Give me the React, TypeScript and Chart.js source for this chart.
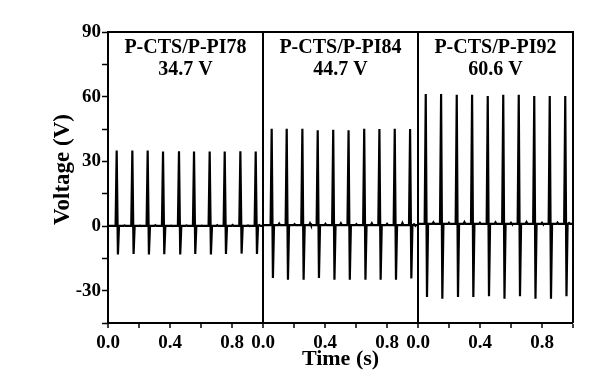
import React, { useEffect, useRef } from "react";
import { Chart, registerables } from "chart.js";

Chart.register(...registerables);

// ---------- data ----------
const PANEL_TITLES = ["P-CTS/P-PI78", "P-CTS/P-PI84", "P-CTS/P-PI92"];
const PANEL_PEAK_LABELS = ["34.7 V", "44.7 V", "60.6 V"];
const X_AXIS_TITLE = "Time (s)";
const Y_AXIS_TITLE = "Voltage (V)";

// Panel 1: P-CTS/P-PI78
const PULSE_TIMES_A = [0.056, 0.157, 0.256, 0.355, 0.458, 0.555, 0.656, 0.753, 0.854, 0.953];
const PULSE_PEAKS_A = [35.0, 35.0, 35.0, 34.6, 34.7, 34.6, 34.6, 34.5, 34.7, 34.5];
const PULSE_TROUGHS_A = [-13.2, -13.0, -13.2, -13.1, -13.2, -13.0, -13.2, -13.0, -12.8, -13.0];
const BASELINE_A = 0.1;
const BUMPS_A = [0.3, 0.2, 0.4, 0.2, 0.3, 0.2, 0.4, 0.5, 0.3, 0.4];

// Panel 2: P-CTS/P-PI84
const PULSE_TIMES_B = [0.056, 0.153, 0.254, 0.353, 0.453, 0.552, 0.653, 0.751, 0.85, 0.949];
const PULSE_PEAKS_B = [45.1, 45.1, 45.1, 44.4, 44.7, 44.4, 45.1, 45.0, 45.1, 45.0];
const PULSE_TROUGHS_B = [-24.1, -24.9, -24.9, -24.1, -24.9, -24.9, -24.9, -24.9, -24.9, -24.3];
const BASELINE_B = 0.4;
const BUMPS_B = [1.1, 0.9, 1.3, 1.0, 1.2, 0.9, 1.2, 1.0, 1.4, 0.8];

// Panel 3: P-CTS/P-PI92
const PULSE_TIMES_C = [0.05, 0.149, 0.25, 0.349, 0.45, 0.55, 0.65, 0.75, 0.85, 0.95];
const PULSE_PEAKS_C = [61.2, 61.2, 60.9, 60.9, 60.3, 60.9, 60.9, 60.3, 60.3, 60.3];
const PULSE_TROUGHS_C = [-32.9, -33.7, -32.9, -32.9, -32.6, -33.7, -32.6, -33.7, -33.7, -32.6];
const BASELINE_C = 1.0;
const BUMPS_C = [1.7, 1.5, 1.8, 1.5, 1.7, 1.5, 1.8, 1.5, 1.6, 1.4];

// ticks
const Y_TICK_VALUES = [-45, -30, -15, 0, 15, 30, 45, 60, 75, 90];
const Y_TICK_LABELS = ["", "-30", "", "0", "", "30", "", "60", "", "90"];
const X_PANEL_TICK_VALUES = [0, 0.2, 0.4, 0.6, 0.8];
const X_PANEL_TICK_LABELS = ["0.0", "", "0.4", "", "0.8"];
const PANEL_COUNT = 3;

const FONT = '"Liberation Serif", "Times New Roman", serif';

function buildPanel(
  offset: number,
  times: number[],
  peaks: number[],
  troughs: number[],
  base: number,
  bumps: number[]
) {
  const pts: { x: number; y: number }[] = [{ x: offset, y: base }];
  times.forEach((t, i) => {
    pts.push({ x: offset + t - 0.007, y: base });
    pts.push({ x: offset + t, y: peaks[i] });
    pts.push({ x: offset + t + 0.008, y: troughs[i] });
    pts.push({ x: offset + t + 0.015, y: base });
    const next = i + 1 < times.length ? times[i + 1] : 1;
    const mid = (t + next) / 2;
    pts.push({ x: offset + mid - 0.006, y: base });
    pts.push({ x: offset + mid, y: bumps[i] });
    pts.push({ x: offset + mid + 0.006, y: base });
  });
  pts.push({ x: offset + 1, y: base });
  return pts;
}

const xTicks: { value: number; label: string }[] = [];
for (let p = 0; p < PANEL_COUNT; p++) {
  X_PANEL_TICK_VALUES.forEach((v, i) =>
    xTicks.push({ value: Math.round((p + v) * 10) / 10, label: X_PANEL_TICK_LABELS[i] })
  );
}
xTicks.push({ value: PANEL_COUNT, label: "" });

const framePlugin = {
  id: "frameAndTitles",
  afterDraw(chart: any) {
    const { ctx, chartArea } = chart;
    const xs = chart.scales.x;
    ctx.save();
    ctx.strokeStyle = "#000";
    ctx.lineWidth = 2;
    ctx.beginPath();
    ctx.moveTo(chartArea.left, chartArea.top);
    ctx.lineTo(chartArea.right, chartArea.top);
    ctx.lineTo(chartArea.right, chartArea.bottom);
    ctx.stroke();
    ctx.fillStyle = "#000";
    ctx.textAlign = "center";
    ctx.textBaseline = "alphabetic";
    ctx.font = `bold 20px ${FONT}`;
    for (let p = 0; p < PANEL_COUNT; p++) {
      const cx = (xs.getPixelForValue(p) + xs.getPixelForValue(p + 1)) / 2;
      ctx.fillText(PANEL_TITLES[p], cx, chartArea.top + 21);
      ctx.fillText(PANEL_PEAK_LABELS[p], cx, chartArea.top + 43);
    }
    // y axis title
    ctx.save();
    ctx.translate(chartArea.left - 45, (chartArea.top + chartArea.bottom) / 2 - 8);
    ctx.rotate(-Math.PI / 2);
    ctx.font = `bold 23px ${FONT}`;
    ctx.textBaseline = "middle";
    ctx.fillText(Y_AXIS_TITLE, 0, 0);
    ctx.restore();
    ctx.restore();
  },
};

export default function App() {
  const canvasRef = useRef<HTMLCanvasElement | null>(null);

  useEffect(() => {
    if (!canvasRef.current) return;
    const datasets = [
      buildPanel(0, PULSE_TIMES_A, PULSE_PEAKS_A, PULSE_TROUGHS_A, BASELINE_A, BUMPS_A),
      buildPanel(1, PULSE_TIMES_B, PULSE_PEAKS_B, PULSE_TROUGHS_B, BASELINE_B, BUMPS_B),
      buildPanel(2, PULSE_TIMES_C, PULSE_PEAKS_C, PULSE_TROUGHS_C, BASELINE_C, BUMPS_C),
    ].map((data, i) => ({
      label: PANEL_TITLES[i],
      data,
      borderColor: "#000",
      borderWidth: 2.2,
      pointRadius: 0,
      tension: 0,
      fill: false,
    }));

    const chart = new Chart(canvasRef.current, {
      type: "line",
      data: { datasets },
      options: {
        animation: false,
        responsive: true,
        maintainAspectRatio: false,
        layout: { padding: { top: 32, right: 27, left: 0, bottom: 0 } },
        plugins: { legend: { display: false }, tooltip: { enabled: false } },
        scales: {
          x: {
            type: "linear",
            min: 0,
            max: PANEL_COUNT,
            afterBuildTicks: (scale: any) => {
              scale.ticks = xTicks.map((t) => ({ value: t.value }));
            },
            afterFit: (scale: any) => {
              scale.height = 53;
            },
            ticks: {
              autoSkip: false,
              maxRotation: 0,
              minRotation: 0,
              padding: 4,
              color: "#000",
              font: { family: FONT, size: 19, weight: "bold" },
              callback: (value: any) => {
                const t = xTicks.find((k) => Math.abs(k.value - Number(value)) < 1e-6);
                return t ? t.label : "";
              },
            },
            grid: {
              drawOnChartArea: true,
              drawTicks: true,
              tickLength: 5,
              tickWidth: 1.5,
              tickColor: "#000",
              color: (ctx: any) => {
                const v = ctx.tick ? ctx.tick.value : -1;
                return Math.abs(v - 1) < 1e-6 || Math.abs(v - 2) < 1e-6 ? "#000" : "rgba(0,0,0,0)";
              },
              lineWidth: (ctx: any) => {
                const v = ctx.tick ? ctx.tick.value : -1;
                return Math.abs(v - 1) < 1e-6 || Math.abs(v - 2) < 1e-6 ? 2 : 0;
              },
            },
            border: { display: true, color: "#000", width: 2 },
            title: {
              display: true,
              text: X_AXIS_TITLE,
              color: "#000",
              font: { family: FONT, size: 22, weight: "bold" },
              padding: { top: 0, bottom: 3 },
            },
          },
          y: {
            type: "linear",
            min: -45,
            max: 90,
            afterBuildTicks: (scale: any) => {
              scale.ticks = Y_TICK_VALUES.map((v) => ({ value: v }));
            },
            afterFit: (scale: any) => {
              scale.width = 108;
            },
            ticks: {
              autoSkip: false,
              padding: 1,
              color: "#000",
              font: { family: FONT, size: 19, weight: "bold" },
              callback: (value: any) => {
                const i = Y_TICK_VALUES.indexOf(Number(value));
                return i >= 0 ? Y_TICK_LABELS[i] : "";
              },
            },
            grid: {
              drawOnChartArea: false,
              drawTicks: true,
              tickLength: 6,
              tickWidth: 1.5,
              tickColor: "#000",
            },
            border: { display: true, color: "#000", width: 2 },
            title: { display: false },
          },
        },
      },
      plugins: [framePlugin],
    });
    return () => chart.destroy();
  }, []);

  return (
    <div style={{ position: "absolute", left: 0, top: 0, width: 600, height: 376, background: "#fff" }}>
      <canvas ref={canvasRef} />
    </div>
  );
}
